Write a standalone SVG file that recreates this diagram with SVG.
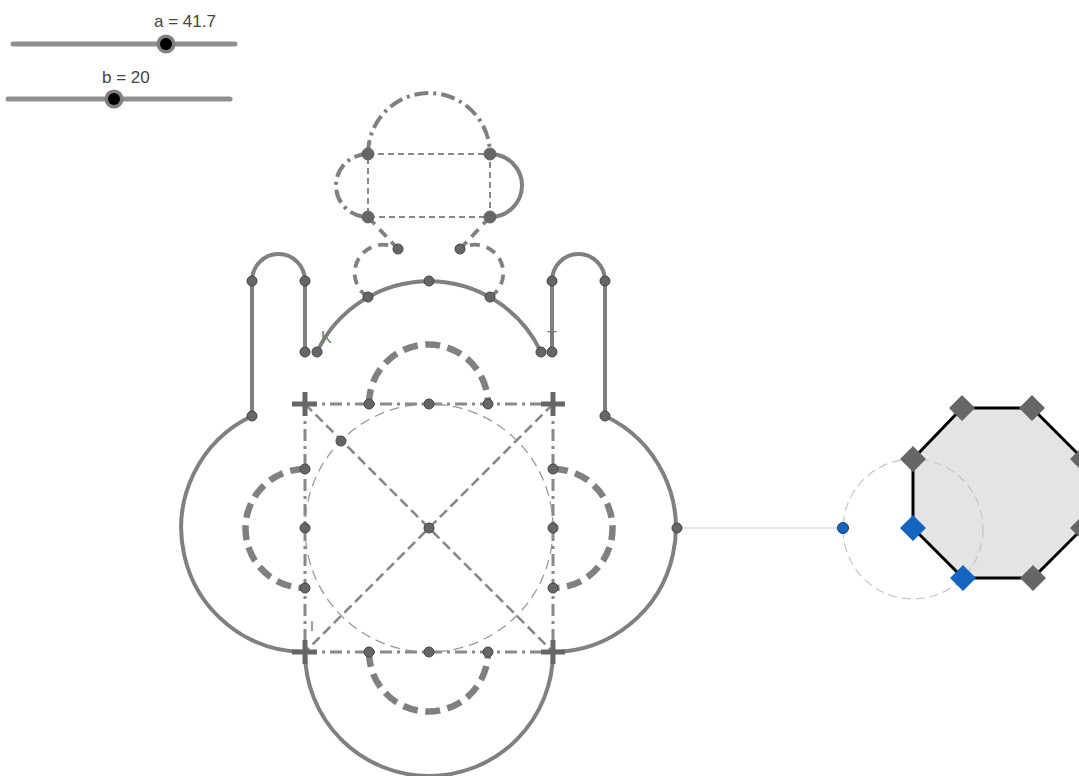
<svg xmlns="http://www.w3.org/2000/svg" width="1079" height="776" viewBox="0 0 1079 776">
<style>
text{font-family:"Liberation Sans",Arial,sans-serif}
.lab{font-size:17px;fill:#444}
.pl{font-size:16px;fill:#777}
.track{stroke:#909090;stroke-width:5;stroke-linecap:round;fill:none}
.solid{fill:none;stroke:#808080;stroke-width:4}
.bold{fill:none;stroke:#808080;stroke-width:6.500;stroke-dasharray:15 7.500}
.mid{fill:none;stroke:#808080;stroke-width:3.800;stroke-dasharray:10 7}
.dd{fill:none;stroke:#808080;stroke-width:4;stroke-dasharray:14 5 3 5}
.sq{fill:none;stroke:#888;stroke-width:3;stroke-dasharray:12 5 3 5}
.thin{fill:none;stroke:#888;stroke-width:2;stroke-dasharray:6 4}
.diag{fill:none;stroke:#888;stroke-width:2.600;stroke-dasharray:10 5}
.circ{fill:none;stroke:#999;stroke-width:1.300;stroke-dasharray:10 6}
.cross{fill:none;stroke:#666;stroke-width:5}
.p{fill:#666;stroke:#444;stroke-width:1}
.pb{fill:#666;stroke:#666;stroke-width:1}
.dm{fill:#666}
.dmb{fill:#1565c0}
</style>
<g id="slider-a"><line class="track" x1="13" y1="44" x2="235" y2="44"/><circle cx="166" cy="44" r="9.500" fill="#808080"/><circle cx="166" cy="44" r="6" fill="#000"/><text class="lab" x="154" y="27">a = 41.7</text></g>
<g id="slider-b"><line class="track" x1="8" y1="99" x2="230" y2="99"/><circle cx="114" cy="99" r="9.500" fill="#808080"/><circle cx="114" cy="99" r="6" fill="#000"/><text class="lab" x="102" y="83">b = 20</text></g>
<g id="connectors">
<path class="solid" d="M252 416A124 124 0 0 0 305 652"/>
<path class="solid" d="M605 416A124 124 0 0 1 553 652"/>
<path class="solid" d="M305 652A124 124 0 0 0 553 652"/>
<path class="solid" d="M252 416V281A26.500 27 0 0 1 305 281V352"/>
<path class="solid" d="M552 352V281A26.500 27 0 0 1 605 281V416"/>
<path class="solid" d="M317 352A124 124 0 0 1 541 352"/>
<path class="bold" d="M369 404A59.500 59.500 0 0 1 488 404"/>
<path class="bold" d="M305 469A59.500 59.500 0 0 0 305 588"/>
<path class="bold" d="M553 469A59.500 59.500 0 0 1 553 588"/>
<path class="bold" d="M369 652A59.500 59.500 0 0 0 488 652"/>
<path class="mid" d="M368 297A28.300 28.300 0 1 1 398 249"/>
<path class="mid" d="M490 297A28.300 28.300 0 1 0 460 249"/>
<path class="mid" d="M368 217L398 249M490 217L460 249"/>
<path class="dd" d="M368 154A61 61 0 0 1 490 154"/>
<path class="dd" d="M368 154A32 31.500 0 0 0 368 217"/>
<path class="solid" d="M490 154A32 31.500 0 0 1 490 217"/>
<path class="thin" d="M368 154H490V217H368Z"/>
<path class="sq" d="M305 404H553M305 652H553M305 404V652M553 404V652"/>
<path class="diag" d="M305 404L553 652M553 404L305 652"/>
<circle class="circ" cx="429" cy="528" r="124"/>
<path class="cross" d="M292 404H317M305 392V416M541 404H565M553 392V416M292 652H317M305 640V664M541 652H565M553 640V664"/>
<line x1="677" y1="528" x2="843" y2="528" stroke="#ccc" stroke-width="1.200"/>
</g>
<g id="octagon">
<path d="M913 459L962 408H1032L1083 459V528L1033 578H963L913 528Z" fill="#e4e4e4" stroke="#000" stroke-width="3"/>
<circle cx="913" cy="529" r="70" fill="none" stroke="#c4c4c4" stroke-width="1.200" stroke-dasharray="9 5"/>
<path class="dm" d="M962 395l13 13l-13 13l-13-13ZM1032 395l13 13l-13 13l-13-13ZM913 446l13 13l-13 13l-13-13ZM1083 446l13 13l-13 13l-13-13ZM1083 515l13 13l-13 13l-13-13ZM1033 565l13 13l-13 13l-13-13Z"/>
<path class="dmb" d="M913 515l13 13l-13 13l-13-13ZM963 565l13 13l-13 13l-13-13Z"/>
</g>
<g id="labels"><text class="pl" x="321" y="343">K</text><text class="pl" x="547" y="343">T</text><text class="pl" style="font-size:14px" x="310" y="631">I</text></g>
<g id="points">
<circle cx="843" cy="528" r="5.500" fill="#1565c0" stroke="#1a3a5c" stroke-width="1"/>
<circle class="pb" cx="368" cy="154" r="6"/><circle class="pb" cx="490" cy="154" r="6"/><circle class="pb" cx="368" cy="217" r="6"/><circle class="pb" cx="490" cy="217" r="6"/>
<circle class="p" cx="398" cy="249" r="5"/><circle class="p" cx="460" cy="249" r="5"/>
<circle class="p" cx="368" cy="297" r="5"/><circle class="p" cx="429" cy="281" r="5"/><circle class="p" cx="490" cy="297" r="5"/>
<circle class="p" cx="252" cy="281" r="5"/><circle class="p" cx="305" cy="281" r="5"/><circle class="p" cx="552" cy="281" r="5"/><circle class="p" cx="605" cy="281" r="5"/>
<circle class="p" cx="305" cy="352" r="5"/><circle class="p" cx="317" cy="352" r="5"/><circle class="p" cx="541" cy="352" r="5"/><circle class="p" cx="552" cy="352" r="5"/>
<circle class="p" cx="252" cy="416" r="5"/><circle class="p" cx="605" cy="416" r="5"/>
<circle class="p" cx="369" cy="404" r="5"/><circle class="p" cx="429" cy="404" r="5"/><circle class="p" cx="488" cy="404" r="5"/>
<circle class="p" cx="341" cy="441" r="5"/>
<circle class="p" cx="305" cy="469" r="5"/><circle class="p" cx="305" cy="528" r="5"/><circle class="p" cx="305" cy="588" r="5"/>
<circle class="p" cx="553" cy="469" r="5"/><circle class="p" cx="553" cy="528" r="5"/><circle class="p" cx="553" cy="588" r="5"/>
<circle class="p" cx="429" cy="528" r="5"/><circle class="p" cx="677" cy="528" r="5"/>
<circle class="p" cx="369" cy="652" r="5"/><circle class="p" cx="429" cy="652" r="5"/><circle class="p" cx="488" cy="652" r="5"/>
</g>
</svg>
